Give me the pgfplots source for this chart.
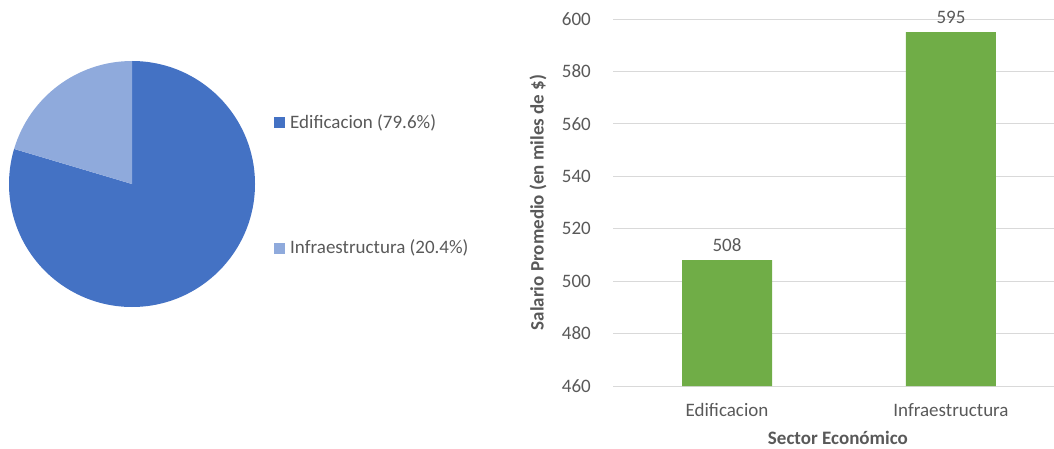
\documentclass[border=0pt]{standalone}
\usepackage{pgfplots}
\pgfplotsset{compat=1.18}
\usepackage{pgfplotstable}
\usepackage{fontspec}
\setmainfont{Carlito}

\definecolor{edif}{HTML}{4472C4}
\definecolor{infra}{HTML}{8FAADC}
\definecolor{barg}{HTML}{70AD47}
\definecolor{txt}{HTML}{595959}
\definecolor{gridc}{HTML}{D9D9D9}

% share of workers and average salary by sector
\pgfplotstableread{
idx sector share salario
0 Edificacion 79.6 508
1 Infraestructura 20.4 595
}\datos

\begin{document}
\begin{tikzpicture}[x=1pt,y=1pt,font=\fontsize{19}{23}\selectfont]
\path[use as bounding box] (0pt,0pt) rectangle (1054pt,448pt);

\pgfplotstablegetelem{0}{share}\of\datos \let\shareA\pgfplotsretval
\pgfplotstablegetelem{1}{share}\of\datos \let\shareB\pgfplotsretval
\pgfmathsetmacro\angA{90-3.6*\shareA}

% pie: slices start at twelve o'clock and run clockwise
\begin{axis}[hide axis, scale only axis, width=246pt, height=246pt,
  xmin=-1, xmax=1, ymin=-1, ymax=1, at={(132pt,264pt)}, anchor=center, clip=false]
  \fill[edif] (axis cs:0,0) -- ++(90:123pt)
    arc[start angle=90, end angle=\angA, radius=123pt] -- cycle;
  \fill[infra] (axis cs:0,0) -- ++(\angA:123pt)
    arc[start angle=\angA, end angle=-270, radius=123pt] -- cycle;
\end{axis}

% pie legend
\fill[edif] (274pt,319.5pt) rectangle (285pt,330.5pt);
\node[anchor=west, inner sep=0pt, text=txt] at (290pt,325pt) {Edificacion (\shareA\%)};
\fill[infra] (274pt,194.5pt) rectangle (285pt,205.5pt);
\node[anchor=west, inner sep=0pt, text=txt] at (290pt,200pt) {Infraestructura (\shareB\%)};

% bar chart
\begin{axis}[at={(613pt,62pt)}, anchor=south west, scale only axis,
  width=441pt, height=367pt,
  ybar, bar width=90pt,
  xmin=-0.509, xmax=1.46, ymin=460, ymax=600,
  ytick={460,480,...,600},
  xtick=data, xticklabels={Edificacion,Infraestructura},
  axis line style={draw=none}, major tick length=0pt,
  ymajorgrids, grid style={gridc, line width=1pt},
  /pgf/number format/assume math mode=true,
  tick label style={text=txt, font=\fontsize{19}{23}\selectfont},
  yticklabel style={anchor=east, inner sep=0pt, xshift=-22pt},
  xticklabel style={anchor=north, inner sep=0pt, yshift=-17pt},
  nodes near coords,
  nodes near coords style={text=txt, font=\fontsize{19}{23}\selectfont, yshift=5pt},
  xlabel={Sector Económico},
  ylabel={Salario Promedio (en miles de \$)},
  label style={text=txt, font=\fontsize{19}{23}\selectfont\bfseries},
  x label style={at={(axis description cs:0.510,-0.1417)}, anchor=center},
  y label style={at={(axis description cs:-0.170,0.5)}, anchor=center},
]
  \addplot[fill=barg, draw=none] table[x=idx, y=salario]{\datos};
\end{axis}
\end{tikzpicture}
\end{document}
